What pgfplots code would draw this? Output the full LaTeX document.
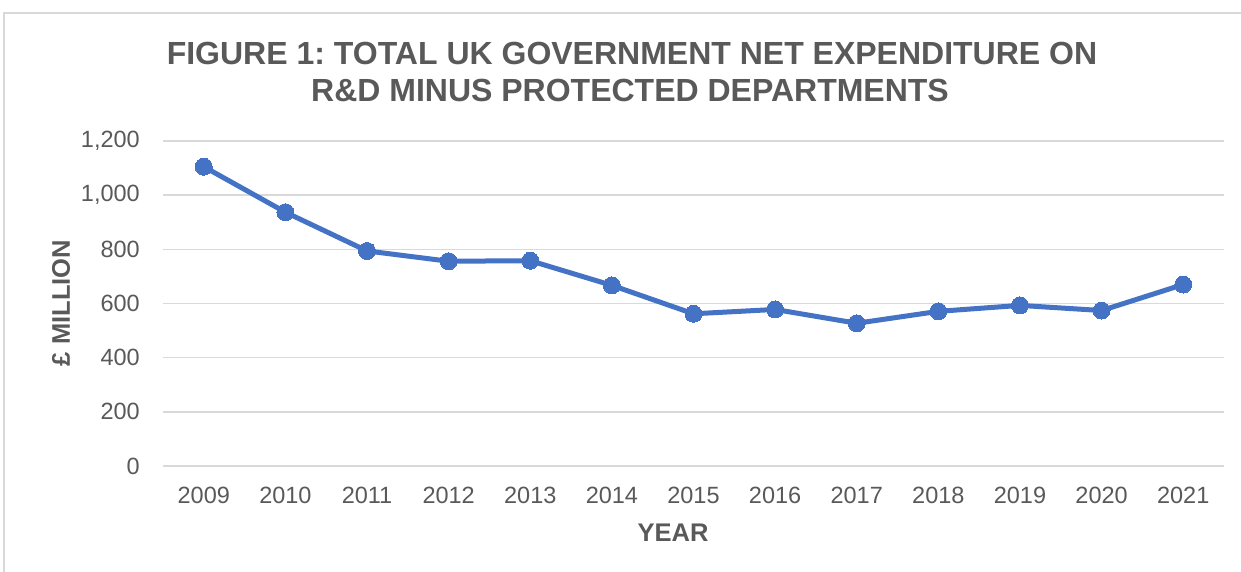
\documentclass[border=0pt]{standalone}
\usepackage{pgfplots}
\pgfplotsset{compat=1.18}
\usepackage{fontspec}
\setmainfont{Liberation Sans}
\frenchspacing
\definecolor{txt}{HTML}{595959}
\definecolor{gridc}{HTML}{D9D9D9}
\definecolor{blue1}{HTML}{4472C4}
\begin{document}
\begin{tikzpicture}[x=1pt,y=1pt]
\useasboundingbox (0,0) rectangle (1241,572);
\draw[gridc, line width=1.5pt] (4,0) -- (4,559) -- (1241,559);
\node[text=txt, font=\fontsize{32}{38}\selectfont\bfseries] at (632,519) {FIGURE 1: TOTAL UK GOVERNMENT NET EXPENDITURE ON};
\node[text=txt, font=\fontsize{32}{38}\selectfont\bfseries] at (630,482) {R\&D MINUS PROTECTED DEPARTMENTS};
\node[text=txt, font=\fontsize{25.5}{30}\selectfont\bfseries] at (673,39) {YEAR};
\node[text=txt, font=\fontsize{25.5}{30}\selectfont\bfseries, rotate=90] at (61,269) {£ MILLION};
\begin{axis}[
  at={(163pt,106pt)}, anchor=south west,
  scale only axis, width=1061pt, height=325pt,
  xmin=-0.5, xmax=12.5, ymin=0, ymax=1200,
  ytick={0,200,400,600,800,1000,1200},
  xtick={0,1,2,3,4,5,6,7,8,9,10,11,12},
  xticklabels={2009,2010,2011,2012,2013,2014,2015,2016,2017,2018,2019,2020,2021},
  axis line style={draw=none},
  tick style={draw=none},
  ymajorgrids,
  grid style={gridc, line width=1.5pt},
  ticklabel style={font=\fontsize{23.5}{28}\selectfont, text=txt, inner sep=0pt},
  yticklabel style={anchor=east, xshift=-23pt},
  xticklabel style={anchor=north, yshift=-21pt},
  /pgf/number format/assume math mode=true,
  /pgf/number format/1000 sep={,},
  clip=false,
]
\addplot[blue1, line width=5pt, mark=*, mark size=8.5pt, mark options={fill=blue1, draw=blue1, line width=0pt}]
coordinates {(0,1105) (1,937) (2,794) (3,756) (4,758) (5,667) (6,562) (7,578) (8,527) (9,571) (10,593) (11,574) (12,670)};
\end{axis}
\end{tikzpicture}
\end{document}
